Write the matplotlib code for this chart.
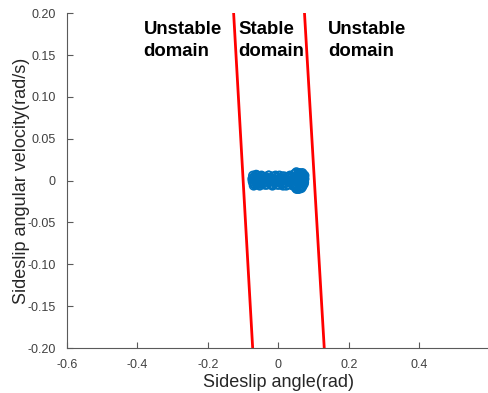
import matplotlib
matplotlib.use("Agg")
import matplotlib.pyplot as plt

# phase-plane samples (sideslip angle, sideslip angular velocity)
beta = [-0.074, -0.071, -0.068, -0.072, -0.066, -0.062, -0.058, -0.064, -0.070, -0.060,
        -0.055, -0.050, -0.045, -0.040, -0.035, -0.030, -0.025, -0.020, -0.015, -0.010,
        -0.005, 0.000, 0.005, 0.010, 0.015, 0.020, 0.025, 0.030, 0.035, 0.040,
        0.045, 0.050, 0.055, 0.060, 0.065, 0.070, 0.074, 0.072, 0.068, 0.062,
        -0.052, -0.042, -0.032, -0.022, -0.012, -0.002, 0.008, 0.018, 0.028, 0.038,
        0.048, 0.058, 0.066, 0.071, 0.060, 0.052, 0.046, 0.056, 0.064, 0.070,
        -0.048, -0.038, -0.028, -0.018, -0.008, 0.002, 0.012, 0.022, 0.032, 0.042,
        -0.069, -0.063, 0.074, 0.067, 0.054, 0.049,
        -0.073, -0.067, -0.061, -0.057, -0.053, -0.047, -0.043, -0.037, -0.033, -0.027,
        -0.023, -0.017, -0.013, -0.007, -0.003, 0.003, 0.007, 0.013, 0.017, 0.023,
        0.027, 0.033, 0.037, 0.043, 0.047, 0.053, 0.057, 0.063, 0.069, 0.073,
        -0.070, -0.064, -0.056, -0.046, -0.036, -0.026, -0.016, -0.006, 0.004, 0.014,
        0.024, 0.034, 0.044, 0.051, 0.059, 0.065, 0.072, 0.058, 0.050, 0.068]
dbeta = [0.002, -0.003, 0.005, 0.006, -0.005, 0.004, -0.002, 0.000, -0.006, 0.006,
         0.004, -0.004, 0.003, -0.003, 0.004, -0.002, 0.003, -0.004, 0.002, -0.003,
         0.004, -0.002, 0.003, -0.004, 0.002, -0.003, 0.004, -0.002, 0.003, -0.004,
         0.004, -0.005, 0.006, -0.006, 0.007, 0.005, 0.002, -0.004, -0.007, 0.008,
         -0.001, 0.001, -0.001, 0.001, -0.001, 0.001, -0.001, 0.001, -0.001, 0.001,
         0.001, -0.001, 0.001, -0.002, -0.009, -0.010, 0.008, 0.009, -0.008, 0.007,
         0.006, -0.005, 0.006, -0.005, 0.006, -0.005, 0.005, -0.006, 0.005, -0.006,
         -0.004, 0.007, 0.006, -0.003, 0.006, -0.007,
         -0.001, 0.001, -0.004, 0.002, -0.006, 0.005, -0.002, 0.002, -0.005, 0.006,
         0.000, -0.006, 0.005, 0.000, -0.005, 0.006, 0.000, -0.006, 0.005, 0.000,
         -0.005, 0.006, 0.000, -0.006, -0.003, 0.004, 0.003, -0.003, 0.003, -0.002,
         0.003, -0.002, -0.004, 0.002, 0.002, 0.001, 0.000, 0.001, -0.001, 0.000,
         0.001, 0.000, 0.000, 0.010, 0.009, -0.009, 0.004, -0.010, -0.009, 0.009]

# stability boundaries: x values at y = 0.2 and y = -0.2
bound_y = [0.2, -0.2]
left_x = [-0.127, -0.073]
right_x = [0.074, 0.130]

xticks = [-0.6, -0.4, -0.2, 0, 0.2, 0.4]
xtick_labels = ["-0.6", "-0.4", "-0.2", "0", "0.2", "0.4"]
yticks = [-0.20, -0.15, -0.10, -0.05, 0, 0.05, 0.10, 0.15, 0.20]
ytick_labels = ["-0.20", "-0.15", "-0.10", "-0.05", "0", "0.05", "0.10", "0.15", "0.20"]

plt.rcParams["font.family"] = ["Liberation Sans", "DejaVu Sans"]

fig = plt.figure(figsize=(4.88, 3.93), dpi=100)
ax = fig.add_axes([0.137, 0.1145, 0.867, 0.852])

ax.scatter(beta, dbeta, s=36, facecolors="none", edgecolors="#0072BD", linewidths=1.2)
ax.plot(left_x, bound_y, color="#FF0000", lw=2)
ax.plot(right_x, bound_y, color="#FF0000", lw=2)

ax.set_xlim(-0.6, 0.6)
ax.set_ylim(-0.2, 0.2)
ax.set_xticks(xticks)
ax.set_xticklabels(xtick_labels)
ax.set_yticks(yticks)
ax.set_yticklabels(ytick_labels)

grey = "#262626"
for side in ["top", "right"]:
    ax.spines[side].set_visible(False)
for side in ["left", "bottom"]:
    ax.spines[side].set_color("#5a5a5a")
    ax.spines[side].set_linewidth(0.8)
ax.tick_params(direction="in", length=4, width=0.8, color="#5a5a5a",
               labelsize=9, labelcolor="#404040")
ax.tick_params(axis="x", pad=8)
ax.tick_params(axis="y", pad=8)

ax.set_xlabel("Sideslip angle(rad)", fontsize=13, color=grey, labelpad=2)
ax.set_ylabel("Sideslip angular velocity(rad/s)", fontsize=13, color=grey, labelpad=-2)

txt = dict(fontsize=13.4, fontweight="bold", va="top", color="black", linespacing=1.4)
ax.text(-0.382, 0.191, "Unstable\ndomain", ha="left", **txt)
ax.text(-0.113, 0.191, "Stable\ndomain", ha="left", **txt)
ax.text(0.141, 0.191, "Unstable\ndomain", ha="left", **txt)

fig.savefig("out.png", dpi=100)
